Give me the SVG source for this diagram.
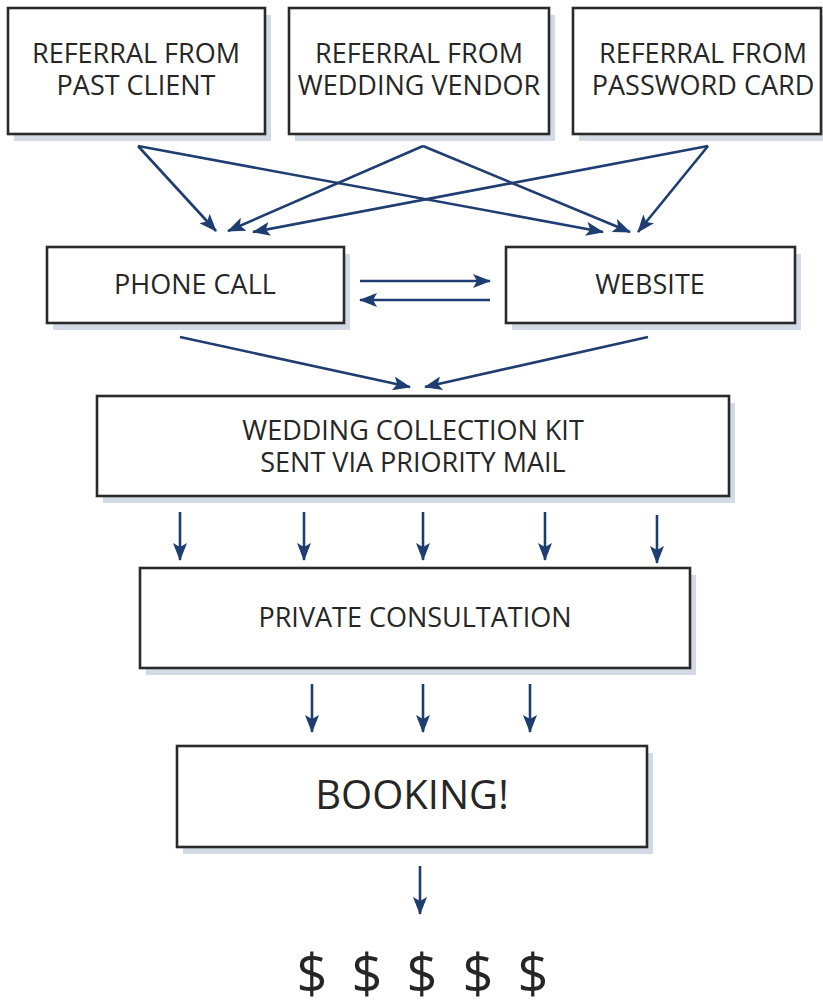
<svg xmlns="http://www.w3.org/2000/svg" width="823" height="1005" viewBox="0 0 823 1005">
  <style>
    .shadow { fill: #d3dae5; }
    .box { fill: #ffffff; stroke: #2a2a2a; stroke-width: 2.6; }
    .label { font-family: "Open Sans", "Liberation Sans", sans-serif; font-size: 27px; fill: #262626; text-anchor: middle; }
    .big { font-size: 40px; }
    .money { font-size: 54px; }
    .conn line { stroke: #1e3d70; stroke-width: 2.6; fill: none; marker-end: url(#head); }
  </style>
  <defs>
    <marker id="head" viewBox="0 0 18 14" refX="17" refY="7" markerWidth="18" markerHeight="14" markerUnits="userSpaceOnUse" orient="auto">
      <path d="M0,0 L18,7 L0,14 L4,7 Z" fill="#1e3d70"/>
    </marker>
  </defs>
  <rect width="823" height="1005" fill="#ffffff"/>

  <g id="referral-past-client">
    <rect class="shadow" x="14" y="15" width="257" height="126"/>
    <rect class="box" x="8" y="8" width="257" height="126"/>
    <text class="label" x="136" y="63">REFERRAL FROM</text>
    <text class="label" x="136" y="95">PAST CLIENT</text>
  </g>
  <g id="referral-wedding-vendor">
    <rect class="shadow" x="295" y="15" width="260" height="126"/>
    <rect class="box" x="289" y="8" width="260" height="126"/>
    <text class="label" x="419" y="63">REFERRAL FROM</text>
    <text class="label" x="419" y="95">WEDDING VENDOR</text>
  </g>
  <g id="referral-password-card">
    <rect class="shadow" x="579" y="15" width="250" height="126"/>
    <rect class="box" x="573" y="8" width="248" height="126"/>
    <text class="label" x="703" y="63">REFERRAL FROM</text>
    <text class="label" x="703" y="95">PASSWORD CARD</text>
  </g>
  <g id="phone-call">
    <rect class="shadow" x="53" y="254" width="297" height="76"/>
    <rect class="box" x="47" y="247" width="297" height="76"/>
    <text class="label" x="195" y="294">PHONE CALL</text>
  </g>
  <g id="website">
    <rect class="shadow" x="512" y="254" width="289" height="76"/>
    <rect class="box" x="506" y="247" width="289" height="76"/>
    <text class="label" x="650" y="294">WEBSITE</text>
  </g>
  <g id="collection-kit">
    <rect class="shadow" x="103" y="403" width="632" height="100"/>
    <rect class="box" x="97" y="396" width="632" height="100"/>
    <text class="label" x="413" y="440">WEDDING COLLECTION KIT</text>
    <text class="label" x="413" y="472">SENT VIA PRIORITY MAIL</text>
  </g>
  <g id="private-consultation">
    <rect class="shadow" x="146" y="575" width="550" height="100"/>
    <rect class="box" x="140" y="568" width="550" height="100"/>
    <text class="label" x="415" y="627">PRIVATE CONSULTATION</text>
  </g>
  <g id="booking">
    <rect class="shadow" x="183" y="753" width="470" height="101"/>
    <rect class="box" x="177" y="746" width="470" height="101"/>
    <text class="label big" x="412" y="809">BOOKING!</text>
  </g>
  <g id="revenue">
    <text class="label money" x="312" y="993">$</text>
    <text class="label money" x="367" y="993">$</text>
    <text class="label money" x="422" y="993">$</text>
    <text class="label money" x="478" y="993">$</text>
    <text class="label money" x="533" y="993">$</text>
  </g>

  <g id="connectors" class="conn">
    <!-- referrals to phone call / website -->
    <line x1="138" y1="146" x2="216" y2="231"/>
    <line x1="138" y1="146" x2="603" y2="232"/>
    <line x1="423" y1="146" x2="228" y2="231"/>
    <line x1="423" y1="146" x2="630" y2="232"/>
    <line x1="708" y1="146" x2="253" y2="232"/>
    <line x1="708" y1="146" x2="638" y2="232"/>
    <!-- phone call and website both ways -->
    <line x1="360" y1="281" x2="490" y2="281"/>
    <line x1="490" y1="300" x2="360" y2="300"/>
    <!-- into collection kit -->
    <line x1="180" y1="337" x2="410" y2="387"/>
    <line x1="648" y1="337" x2="425" y2="387"/>
    <!-- kit to consultation -->
    <line x1="180" y1="512" x2="180" y2="560"/>
    <line x1="304" y1="512" x2="304" y2="560"/>
    <line x1="423" y1="512" x2="423" y2="560"/>
    <line x1="545" y1="512" x2="545" y2="560"/>
    <line x1="657" y1="515" x2="657" y2="563"/>
    <!-- consultation to booking -->
    <line x1="312" y1="684" x2="312" y2="732"/>
    <line x1="423" y1="684" x2="423" y2="732"/>
    <line x1="530" y1="684" x2="530" y2="732"/>
    <!-- booking to revenue -->
    <line x1="420" y1="866" x2="420" y2="914"/>
  </g>
</svg>
